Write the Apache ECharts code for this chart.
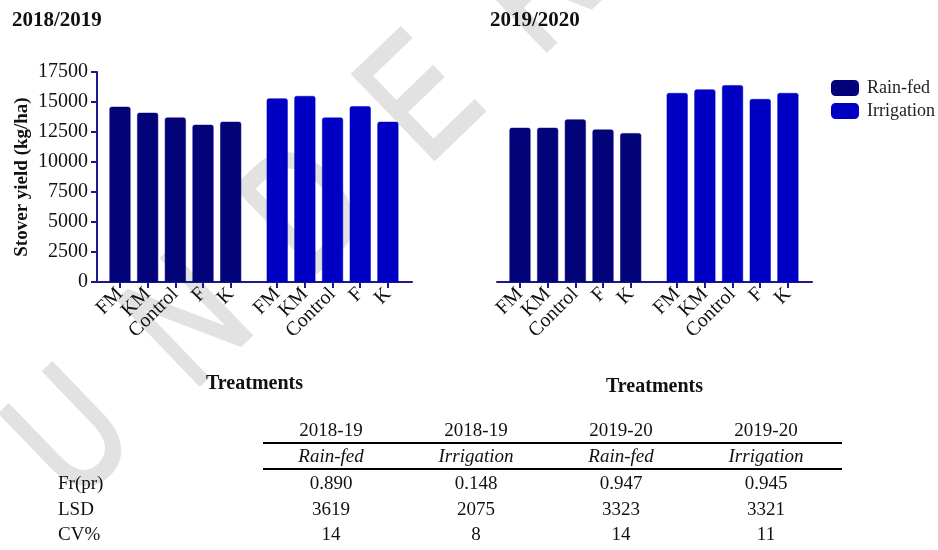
<!DOCTYPE html>
<html>
<head>
<meta charset="utf-8">
<script src="https://cdn.jsdelivr.net/npm/echarts@6/dist/echarts.min.js"></script>
<style>
  html, body { margin: 0; padding: 0; background: #fff; }
  #main { width: 938px; height: 550px; }
</style>
</head>
<body>
<div id="main"></div>
<script>
// treatments, same order in every group
var treatments = ['FM', 'KM', 'Control', 'F', 'K'];

// stover yield (kg/ha)
var rainfed1819 = [14600, 14100, 13700, 13100, 13350];
var irrig1819 = [15300, 15500, 13700, 14650, 13350];
var rainfed1920 = [12850, 12850, 13550, 12700, 12400];
var irrig1920 = [15750, 16050, 16400, 15250, 15750];

var yTicks = [0, 2500, 5000, 7500, 10000, 12500, 15000, 17500];

// table under the charts
var tableYears = ['2018-19', '2018-19', '2019-20', '2019-20'];
var tableWater = ['Rain-fed', 'Irrigation', 'Rain-fed', 'Irrigation'];
var tableRows = ['Fr(pr)', 'LSD', 'CV%'];
var frpr = ['0.890', '0.148', '0.947', '0.945'];
var lsd = ['3619', '2075', '3323', '3321'];
var cv = ['14', '8', '14', '11'];

var serif = '"Liberation Serif", "Times New Roman", serif';
var axisBlue = '#1a1a8a';
var navy = '#020279';
var blue = '#0000c4';
var groupShift = 5.68;   // second group starts a bit after first one
var xMin = -0.83, xMax = 10.55;

// x position of each bar on the value axis
function pos(group, i) { return i + group * groupShift; }
var positions = [];
for (var g = 0; g < 2; g++) for (var i = 0; i < treatments.length; i++) positions.push(pos(g, i));
// empty labels at both ends so the min/max label check leaves the real ones alone
var labelValues = [xMin].concat(positions, [xMax]);

function toPoints(vals, group) {
    return vals.map(function (v, i) { return [pos(group, i), v]; });
}
function labelOf(v) {
    for (var k = 0; k < positions.length; k++) {
        if (Math.abs(positions[k] - v) < 0.01) return treatments[k % treatments.length];
    }
    return '';
}

function xAxisFor(gridIndex) {
    return {
        type: 'value', gridIndex: gridIndex, min: xMin, max: xMax,
        name: 'Treatments', nameLocation: 'middle', nameGap: gridIndex === 0 ? 92 : 95,
        nameTextStyle: { fontFamily: serif, fontWeight: 'bold', fontSize: 20, color: '#111' },
        splitLine: { show: false },
        axisLine: { show: true, onZero: false, lineStyle: { color: axisBlue, width: 2 } },
        axisTick: { show: true, customValues: positions, length: 6, lineStyle: { color: axisBlue, width: 2 } },
        axisLabel: {
            customValues: labelValues, rotate: 45, margin: 9, hideOverlap: false,
            fontFamily: serif, fontSize: 20, color: '#111',
            formatter: labelOf
        }
    };
}

var chart = echarts.init(document.getElementById('main'));

var graphics = [];
// watermark behind everything
graphics.push({
    type: 'text', z: -10, silent: true,
    x: 42, y: 471, rotation: 0.766, scaleX: 0.75,
    style: {
        text: 'U  N  D  E  R    R  E  V  I  E  W', fill: '#e2e2e2',
        stroke: '#e2e2e2', lineWidth: 4,
        font: '170px "Liberation Sans", sans-serif',
        textAlign: 'left', textVerticalAlign: 'middle'
    }
});

// table
var colX = [331, 476, 621, 766];
var rowY = [431, 457, 484, 510, 535];
var tfont = '19px ' + serif;
tableYears.forEach(function (t, c) {
    graphics.push({ type: 'text', x: colX[c], y: rowY[0], style: { text: t, font: tfont, fill: '#111', textAlign: 'center', textVerticalAlign: 'middle' } });
});
tableWater.forEach(function (t, c) {
    graphics.push({ type: 'text', x: colX[c], y: rowY[1], style: { text: t, font: 'italic ' + tfont, fill: '#111', textAlign: 'center', textVerticalAlign: 'middle' } });
});
[frpr, lsd, cv].forEach(function (row, r) {
    graphics.push({ type: 'text', x: 58, y: rowY[r + 2], style: { text: tableRows[r], font: tfont, fill: '#111', textAlign: 'left', textVerticalAlign: 'middle' } });
    row.forEach(function (t, c) {
        graphics.push({ type: 'text', x: colX[c], y: rowY[r + 2], style: { text: t, font: tfont, fill: '#111', textAlign: 'center', textVerticalAlign: 'middle' } });
    });
});
[443, 469].forEach(function (y) {
    graphics.push({ type: 'line', shape: { x1: 263, y1: y, x2: 842, y2: y }, style: { stroke: '#000', lineWidth: 2 } });
});

function barSeries(name, data, color, idx) {
    return {
        name: name, type: 'bar', xAxisIndex: idx, yAxisIndex: idx,
        data: data, barWidth: 21, barGap: '-100%',
        itemStyle: { color: color, borderRadius: [2, 2, 0, 0], borderColor: color, borderWidth: 0.5 }
    };
}

var option = {
    animation: false,
    backgroundColor: '#fff',
    title: [
        { text: '2018/2019', left: 7, top: 5, textStyle: { fontFamily: serif, fontWeight: 'bold', fontSize: 21, color: '#111' } },
        { text: '2019/2020', left: 485, top: 5, textStyle: { fontFamily: serif, fontWeight: 'bold', fontSize: 21, color: '#111' } }
    ],
    legend: {
        data: ['Rain-fed', 'Irrigation'], orient: 'vertical',
        left: 831, top: 79, padding: 0, itemWidth: 26, itemHeight: 14, itemGap: 5,
        icon: 'roundRect',
        textStyle: { fontFamily: serif, fontSize: 18, color: '#222', padding: [0, 0, 0, 4] }
    },
    grid: [
        { left: 97, top: 72, width: 315, height: 210 },
        { left: 497, top: 72, width: 315, height: 210 }
    ],
    xAxis: [xAxisFor(0), xAxisFor(1)],
    yAxis: [
        {
            type: 'value', gridIndex: 0, min: 0, max: 17500, interval: 2500,
            name: 'Stover yield (kg/ha)', nameLocation: 'middle', nameGap: 65,
            nameTextStyle: { fontFamily: serif, fontWeight: 'bold', fontSize: 19, color: '#111' },
            splitLine: { show: false },
            axisLine: { show: true, onZero: false, lineStyle: { color: axisBlue, width: 2 } },
            axisTick: { show: true, length: 6, lineStyle: { color: axisBlue, width: 2 } },
            axisLabel: { fontFamily: serif, fontSize: 20, color: '#111', margin: 9,
                formatter: function (v) { return yTicks.indexOf(v) >= 0 ? String(v) : ''; } }
        },
        {
            type: 'value', gridIndex: 1, min: 0, max: 17500, interval: 2500,
            show: false, splitLine: { show: false }
        }
    ],
    series: [
        barSeries('Rain-fed', toPoints(rainfed1819, 0), navy, 0),
        barSeries('Irrigation', toPoints(irrig1819, 1), blue, 0),
        barSeries('Rain-fed', toPoints(rainfed1920, 0), navy, 1),
        barSeries('Irrigation', toPoints(irrig1920, 1), blue, 1)
    ],
    graphic: graphics
};

chart.setOption(option);
window.addEventListener('resize', function () {
    chart.resize();
});
</script>
</body>
</html>
